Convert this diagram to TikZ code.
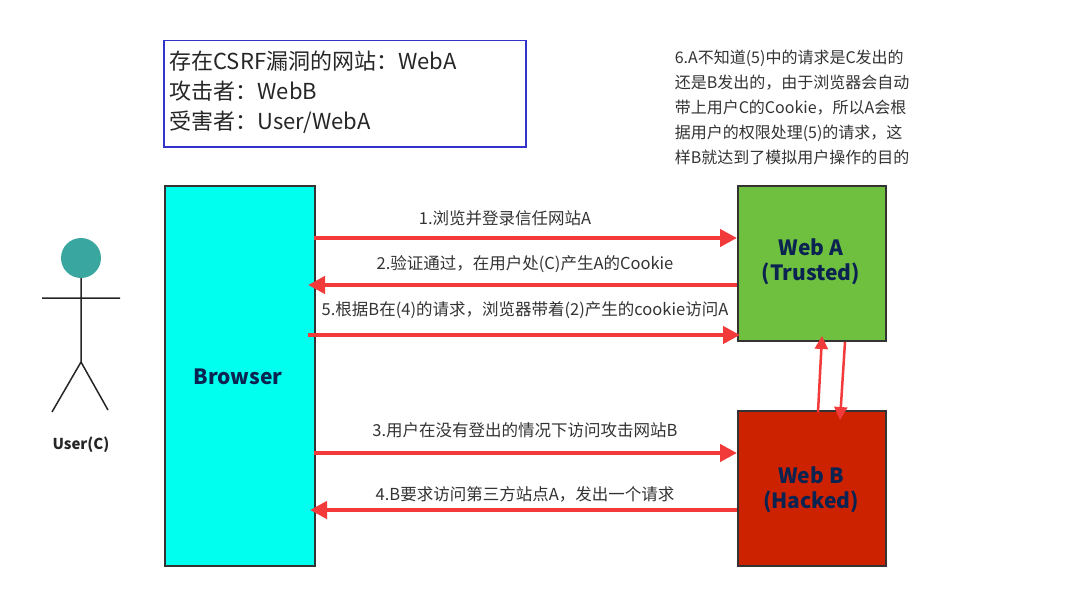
\documentclass[tikz,border=0pt]{standalone}
\usepackage{fontspec}
\setmainfont{Noto Sans CJK SC}
\usetikzlibrary{arrows.meta}
\definecolor{redarr}{HTML}{F23A3A}
\definecolor{webgreen}{HTML}{70C040}
\definecolor{webred}{HTML}{CC2200}
\definecolor{brcyan}{HTML}{00FFEE}
\definecolor{navytext}{HTML}{0B2350}
\definecolor{headc}{HTML}{3AA6A0}
\definecolor{boxblue}{HTML}{3333CC}
\begin{document}
\begin{tikzpicture}[x=1pt,y=-1pt,
  blk/.style={draw=black!80,line width=2pt,inner sep=0},
  bigtxt/.style={font=\fontsize{21}{25}\selectfont\bfseries,text=navytext,align=center},
  lbl/.style={font=\fontsize{16.5}{18}\selectfont,text=black!80},
  arr/.style={draw=redarr,line width=4.5pt,-{Triangle[length=17pt,width=17pt]}},
  stick/.style={draw=black!85,line width=1.5pt}]
\useasboundingbox (0,0) rectangle (1089,594);
\node[draw=boxblue,line width=1.5pt,minimum width=362pt,minimum height=106pt,anchor=north west] (info) at (163,40) {};
\node[anchor=west,font=\fontsize{22}{30}\selectfont,text=black!85,align=left] (infotxt) at (166,92) {存在CSRF漏洞的网站：WebA\\攻击者：WebB\\受害者：User/WebA};
\node[blk,fill=brcyan,minimum width=150pt,minimum height=380pt,anchor=north west] (br) at (164,185) {};
\node[bigtxt] (brt) at (238,377) {Browser};
\node[blk,fill=webgreen,minimum width=148pt,minimum height=155pt,anchor=north west] (wa) at (737,185) {};
\node[bigtxt] (wat) at (811,262) {Web A\\(Trusted)};
\node[blk,fill=webred,minimum width=148pt,minimum height=155pt,anchor=north west] (wb) at (737,410) {};
\node[bigtxt] (wbt) at (811,490) {Web B\\(Hacked)};
% stick figure
\node[circle,fill=headc,minimum size=40pt,inner sep=0] (head) at (81,258) {};
\coordinate (neck) at (81,278);
\coordinate (hip) at (81,362);
\coordinate (la) at (42,298); \coordinate (ra) at (120,298);
\coordinate (ll) at (52,412); \coordinate (rl) at (108,410);
\draw[stick] (neck)--(hip) (la)--(ra) (ll)--(hip)--(rl);
\node[font=\fontsize{15}{16}\selectfont\bfseries,text=black!85] (user) at (81,445) {User(C)};
% arrows
\coordinate (a1s) at (314,238); \coordinate (a1e) at (737,238);
\coordinate (a2s) at (737,285); \coordinate (a2e) at (308,285);
\coordinate (a5s) at (308,335); \coordinate (a5e) at (740,335);
\coordinate (a3s) at (314,453); \coordinate (a3e) at (737,453);
\coordinate (a4s) at (737,510); \coordinate (a4e) at (310,510);
\draw[arr] (a1s)--(a1e);
\draw[arr] (a2s)--(a2e);
\draw[arr] (a5s)--(a5e);
\draw[arr] (a3s)--(a3e);
\draw[arr] (a4s)--(a4e);
\coordinate (u1) at (818,412); \coordinate (u2) at (822,336);
\coordinate (d1) at (845,342); \coordinate (d2) at (840,420);
\draw[draw=redarr,line width=2.5pt,-{Triangle[length=13pt,width=13pt]}] (u1)--(u2);
\draw[draw=redarr,line width=2.5pt,-{Triangle[length=13pt,width=13pt]}] (d1)--(d2);
\node[lbl] (l1) at (505,218) {1.浏览并登录信任网站A};
\node[lbl] (l2) at (525,264) {2.验证通过，在用户处(C)产生A的Cookie};
\node[lbl] (l5) at (525,310) {5.根据B在(4)的请求，浏览器带着(2)产生的cookie访问A};
\node[lbl] (l3) at (525,430) {3.用户在没有登出的情况下访问攻击网站B};
\node[lbl] (l4) at (525,494) {4.B要求访问第三方站点A，发出一个请求};
\node[lbl,align=left,font=\fontsize{16}{25}\selectfont] (note) at (792,107) {6.A不知道(5)中的请求是C发出的\\还是B发出的，由于浏览器会自动\\带上用户C的Cookie，所以A会根\\据用户的权限处理(5)的请求，这\\样B就达到了模拟用户操作的目的};
\end{tikzpicture}
\end{document}
